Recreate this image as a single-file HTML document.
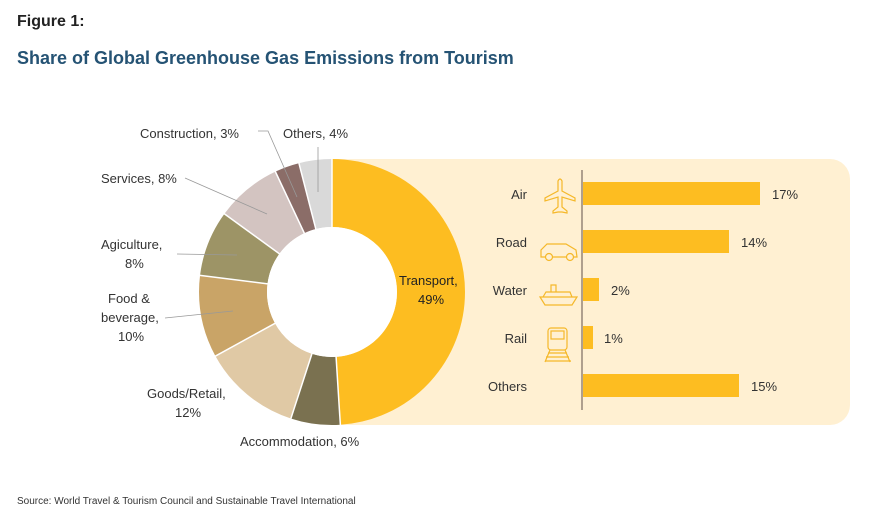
<!DOCTYPE html>
<html><head><style>
body{margin:0;width:870px;height:529px;background:#fff;font-family:"Liberation Sans",sans-serif;position:relative;overflow:hidden}
.t{position:absolute;white-space:nowrap}
</style></head><body>
<div class="t" style="left:17px;top:13px;font-size:16px;font-weight:bold;color:#222">Figure 1:</div>
<div class="t" style="left:17px;top:48px;font-size:18px;font-weight:bold;color:#255374">Share of Global Greenhouse Gas Emissions from Tourism</div>
<svg width="870" height="529" style="position:absolute;left:0;top:0" font-family="Liberation Sans, sans-serif" font-size="13" fill="#333">
<path d="M332 159 H830 A20 20 0 0 1 850 179 V405 A20 20 0 0 1 830 425 H332 Z" fill="#fff0d2"/>
<g transform="rotate(-90 332 292)" fill="none" stroke-width="68">
<circle cx="332" cy="292" r="99" stroke="#fdbd21" stroke-dasharray="304.80 700" stroke-dashoffset="0"/>
<circle cx="332" cy="292" r="99" stroke="#7a7150" stroke-dasharray="37.32 700" stroke-dashoffset="-304.80"/>
<circle cx="332" cy="292" r="99" stroke="#e0c9a5" stroke-dasharray="74.64 700" stroke-dashoffset="-342.12"/>
<circle cx="332" cy="292" r="99" stroke="#c9a467" stroke-dasharray="62.20 700" stroke-dashoffset="-416.77"/>
<circle cx="332" cy="292" r="99" stroke="#9d9466" stroke-dasharray="49.76 700" stroke-dashoffset="-478.97"/>
<circle cx="332" cy="292" r="99" stroke="#d3c4c1" stroke-dasharray="49.76 700" stroke-dashoffset="-528.73"/>
<circle cx="332" cy="292" r="99" stroke="#8b6d68" stroke-dasharray="18.66 700" stroke-dashoffset="-578.50"/>
<circle cx="332" cy="292" r="99" stroke="#d9d9d9" stroke-dasharray="24.88 700" stroke-dashoffset="-597.16"/>
</g>
<g stroke="#fff" stroke-width="1.5">
<line x1="332" y1="292" x2="332" y2="158" transform="rotate(0 332 292)"/>
<line x1="332" y1="292" x2="332" y2="158" transform="rotate(176.4 332 292)"/>
<line x1="332" y1="292" x2="332" y2="158" transform="rotate(198 332 292)"/>
<line x1="332" y1="292" x2="332" y2="158" transform="rotate(241.2 332 292)"/>
<line x1="332" y1="292" x2="332" y2="158" transform="rotate(277.2 332 292)"/>
<line x1="332" y1="292" x2="332" y2="158" transform="rotate(306 332 292)"/>
<line x1="332" y1="292" x2="332" y2="158" transform="rotate(334.8 332 292)"/>
<line x1="332" y1="292" x2="332" y2="158" transform="rotate(345.6 332 292)"/>
</g>
<circle cx="332" cy="292" r="65" fill="#fff"/>
<g stroke="#999" stroke-width="0.8" fill="none">
<polyline points="258,131 268,131 297,197"/>
<polyline points="318,147 318,192"/>
<polyline points="185,178 267,214"/>
<polyline points="177,254 237,255"/>
<polyline points="165,318 233,311"/>
</g>
<text x="399" y="285" fill="#222">Transport,</text>
<text x="418" y="304" fill="#222">49%</text>
<text x="140" y="138">Construction, 3%</text>
<text x="283" y="138">Others, 4%</text>
<text x="101" y="183">Services, 8%</text>
<text x="101" y="249">Agiculture,</text>
<text x="125" y="268">8%</text>
<text x="108" y="303">Food &amp;</text>
<text x="101" y="322">beverage,</text>
<text x="118" y="341">10%</text>
<text x="147" y="398">Goods/Retail,</text>
<text x="175" y="417">12%</text>
<text x="240" y="446">Accommodation, 6%</text>
<line x1="582" y1="170" x2="582" y2="410" stroke="#7a6a60" stroke-width="1.2"/>
<g fill="#fdbd21">
<rect x="583" y="182" width="177" height="23"/>
<rect x="583" y="230" width="146" height="23"/>
<rect x="583" y="278" width="16" height="23"/>
<rect x="583" y="326" width="10" height="23"/>
<rect x="583" y="374" width="156" height="23"/>
</g>
<g text-anchor="end">
<text x="527" y="199">Air</text><text x="527" y="247">Road</text><text x="527" y="295">Water</text><text x="527" y="343">Rail</text><text x="527" y="391">Others</text>
</g>
<text x="772" y="199">17%</text><text x="741" y="247">14%</text><text x="611" y="295">2%</text><text x="604" y="343">1%</text><text x="751" y="391">15%</text>
<g fill="none" stroke="#f5b82a" stroke-width="1.2">
<path d="M558 181 L558 191 L545 198 L545 201 L558 197 L558 207 L553 211 L553 213 L558 212 L562 212 L567 213 L567 211 L562 207 L562 197 L575 201 L575 198 L562 191 L562 181 Q560 177 558 181Z"/>
<path d="M541 257 L541 250 L547 244 L566 244 L576 250 L577 257 Z"/><circle cx="549" cy="257" r="3.5" fill="#fff0d2"/><circle cx="570" cy="257" r="3.5" fill="#fff0d2"/>
<path d="M540 297 L577 297 L572 305 L545 305 Z M543 297 L546 292 L570 292 L572 297 M551 292 L551 285 L556 285 L556 292"/>
<rect x="548" y="328" width="19" height="22" rx="3"/><rect x="551" y="331" width="13" height="8"/><path d="M548 353 L567 353 M546 357 L569 357 M545 361 L571 361 M550 350 L545 362 M565 350 L570 362"/>
</g>
<text x="17" y="504" font-size="10" fill="#333">Source: World Travel &amp; Tourism Council and Sustainable Travel International</text>
</svg>
</body></html>
